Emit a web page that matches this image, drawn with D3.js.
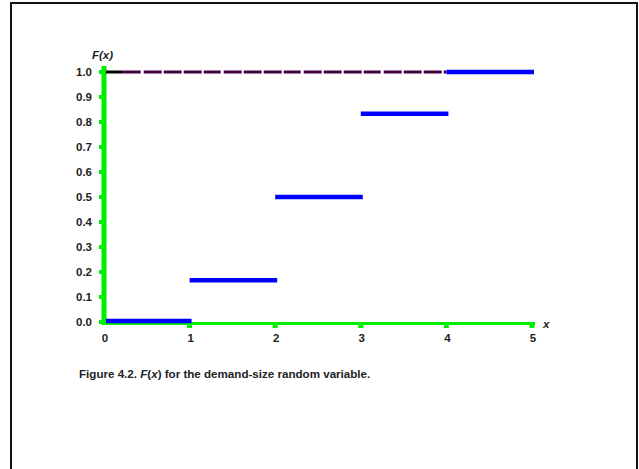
<!DOCTYPE html>
<html>
<head>
<meta charset="utf-8">
<script src="https://cdn.jsdelivr.net/npm/d3@7"></script>
<style>
  body { margin: 0; background: #fff; }
  text { font-family: "Liberation Sans", Arial, sans-serif; font-weight: bold; }
</style>
</head>
<body>
<div id="chart"></div>
<script>
// Step function F(x) for the demand-size random variable
const stepStarts = [0, 1, 2, 3, 4];
const stepEnds = [1, 2, 3, 4, 5];
const stepValues = [0, 1 / 6, 0.5, 5 / 6, 1];
const xTicks = [0, 1, 2, 3, 4, 5];
const yTicks = [0, 0.1, 0.2, 0.3, 0.4, 0.5, 0.6, 0.7, 0.8, 0.9, 1.0];

const W = 639, H = 469;
const svg = d3.select("#chart").append("svg")
    .attr("width", W)
    .attr("height", H);

// Frame
svg.append("path")
    .attr("d", `M11,${H} L11,3 L637,3 L637,${H}`)
    .attr("fill", "none")
    .attr("stroke", "#111")
    .attr("stroke-width", 2);

const x = d3.scaleLinear().domain([0, 5]).range([104, 532]);
const y = d3.scaleLinear().domain([0, 1]).range([322, 72]);

// y axis (thick green line)
svg.append("line")
    .attr("x1", x(0)).attr("x2", x(0))
    .attr("y1", y(1) - 6).attr("y2", y(0) + 3)
    .attr("stroke", "#00ee00")
    .attr("stroke-width", 5);

svg.selectAll(".ytick")
    .data(yTicks)
    .enter().append("rect")
    .attr("x", x(0) - 5)
    .attr("y", d => y(d) - 2)
    .attr("width", 6)
    .attr("height", 4)
    .attr("fill", "#00ee00");

svg.selectAll(".ylab")
    .data(yTicks)
    .enter().append("text")
    .attr("x", 92)
    .attr("y", d => y(d))
    .attr("dy", "0.35em")
    .attr("text-anchor", "end")
    .style("font-size", "11.5px")
    .style("fill", "#222")
    .text(d => d3.format(".1f")(d));

// x axis (green line)
svg.append("line")
    .attr("x1", x(0)).attr("x2", x(5) + 3)
    .attr("y1", y(0) + 1.5).attr("y2", y(0) + 1.5)
    .attr("stroke", "#00ee00")
    .attr("stroke-width", 3);

svg.selectAll(".xtick")
    .data(xTicks.slice(1))
    .enter().append("rect")
    .attr("x", d => x(d) - 2.5)
    .attr("y", y(0) + 2)
    .attr("width", 5)
    .attr("height", 4)
    .attr("fill", "#00ee00");

svg.selectAll(".xlab")
    .data(xTicks)
    .enter().append("text")
    .attr("x", d => x(d) + 1)
    .attr("y", 342)
    .attr("text-anchor", "middle")
    .style("font-size", "11.5px")
    .style("fill", "#222")
    .text(d => d);

// dashed reference line at F(x) = 1
svg.append("line")
    .attr("x1", x(0) + 2).attr("x2", x(0.23))
    .attr("y1", y(1)).attr("y2", y(1))
    .attr("stroke", "#000")
    .attr("stroke-width", 3);

svg.append("line")
    .attr("x1", x(0.23)).attr("x2", x(4))
    .attr("y1", y(1)).attr("y2", y(1))
    .attr("stroke", "#400040")
    .attr("stroke-width", 3)
    .attr("stroke-dasharray", "17,3,18,2,18,2,18,2");

// steps
svg.selectAll(".step")
    .data(stepValues)
    .enter().append("line")
    .attr("x1", (d, i) => x(stepStarts[i]) + (i === 0 ? 2 : 0))
    .attr("x2", (d, i) => x(stepEnds[i]) + 2)
    .attr("y1", (d, i) => y(d) - (i === 0 ? 1 : 0))
    .attr("y2", (d, i) => y(d) - (i === 0 ? 1 : 0))
    .attr("stroke", "#0000ff")
    .attr("stroke-width", 4.5);

// axis titles
svg.append("text")
    .attr("x", 92)
    .attr("y", 59)
    .style("font-size", "11.5px")
    .style("font-style", "italic")
    .style("fill", "#222")
    .text("F(x)");

svg.append("text")
    .attr("x", 543)
    .attr("y", 328)
    .style("font-size", "11.5px")
    .style("font-style", "italic")
    .style("fill", "#222")
    .text("x");

// caption
const cap = svg.append("text")
    .attr("x", 79)
    .attr("y", 378)
    .style("font-size", "11.6px")
    .style("fill", "#222");
cap.append("tspan").text("Figure 4.2. ");
cap.append("tspan").style("font-style", "italic").text("F");
cap.append("tspan").text("(");
cap.append("tspan").style("font-style", "italic").text("x");
cap.append("tspan").text(") for the demand-size random variable.");
</script>
</body>
</html>
